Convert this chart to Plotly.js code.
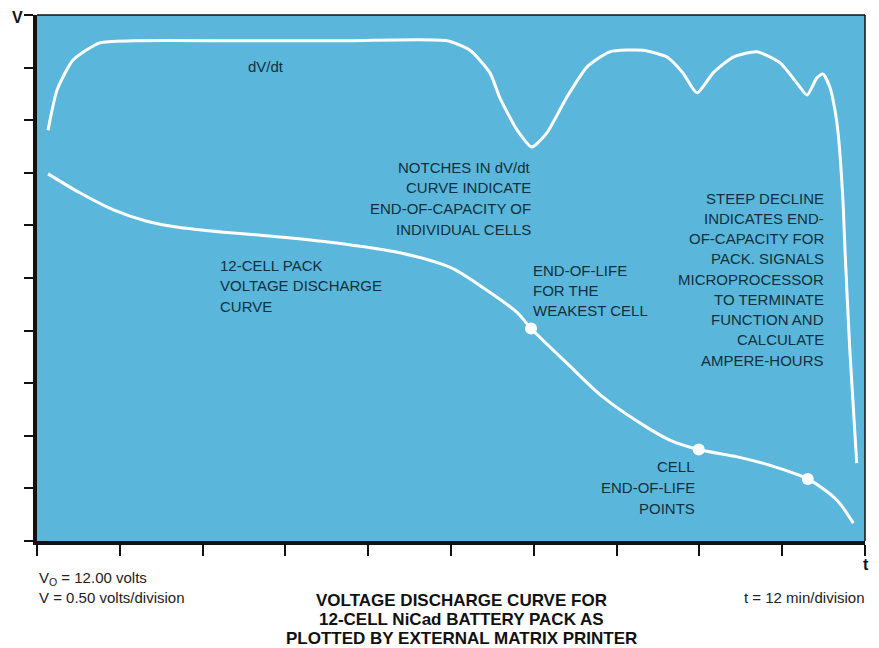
<!DOCTYPE html>
<html>
<head>
<meta charset="utf-8">
<script src="https://cdn.plot.ly/plotly-3.0.1.min.js"></script>
<style>
  html, body { margin: 0; padding: 0; background: #ffffff; }
  #chart { width: 879px; height: 648px; }
</style>
</head>
<body>
<div id="chart"></div>
<script>
// ---- Data ----
// time in minutes (12 min / division), voltage in volts (V0 = 12.00 V, 0.50 V / division)
const dischargeT = [1.6, 6.2, 11.0, 15.9, 20.7, 28.0, 35.2, 42.5, 52.6, 59.9, 64.6, 69.6, 71.6, 76.8, 82.0, 88.4, 91.7, 95.9, 101.5, 106.2, 111.7, 115.9, 118.3];
const dischargeV = [15.49, 15.31, 15.15, 15.04, 14.98, 14.93, 14.89, 14.84, 14.74, 14.60, 14.41, 14.17, 14.02, 13.69, 13.37, 13.08, 12.96, 12.87, 12.80, 12.72, 12.59, 12.39, 12.17];

// cell end-of-life points on the discharge curve
const cellEolT = [71.6, 95.9, 111.7];
const cellEolV = [14.02, 12.87, 12.59];

// dV/dt curve (arbitrary units, divisions)
const dvdtT = [1.6, 2.9, 5.2, 9.1, 14.0, 30.0, 45.0, 59.4, 62.75, 65.65, 67.1, 69.6, 71.7, 73.9, 76.8, 79.7, 83.0, 87.8, 91.3, 93.6, 95.65, 98.0, 100.9, 104.35, 107.7, 110.1, 111.6, 113.0, 113.9, 114.9, 115.65, 116.1, 116.8, 117.1, 117.8, 118.8];
const dvdtD = [7.81, 8.57, 9.14, 9.47, 9.51, 9.51, 9.51, 9.51, 9.33, 8.90, 8.42, 7.81, 7.49, 7.76, 8.44, 9.01, 9.30, 9.33, 9.20, 8.90, 8.52, 8.90, 9.20, 9.30, 9.09, 8.71, 8.48, 8.80, 8.88, 8.63, 8.19, 7.76, 6.48, 5.53, 3.63, 1.48];

// tick values
const timeTicks = [0, 12, 24, 36, 48, 60, 72, 84, 96, 108, 120];
const voltTicks = [12, 12.5, 13, 13.5, 14, 14.5, 15, 15.5, 16, 16.5, 17];

// text labels
const dvdtLabel = ["dV/dt"];
const notchLines = ["NOTCHES IN dV/dt", "CURVE INDICATE", "END-OF-CAPACITY OF", "INDIVIDUAL CELLS"];
const packLines = ["12-CELL PACK", "VOLTAGE DISCHARGE", "CURVE"];
const weakLines = ["END-OF-LIFE", "FOR THE", "WEAKEST CELL"];
const steepLines = ["STEEP DECLINE", "INDICATES END-", "OF-CAPACITY FOR", "PACK. SIGNALS", "MICROPROCESSOR", "TO TERMINATE", "FUNCTION AND", "CALCULATE", "AMPERE-HOURS"];
const cellLines = ["CELL", "END-OF-LIFE", "POINTS"];
const titleLines = ["VOLTAGE DISCHARGE CURVE FOR", "12-CELL NiCad BATTERY PACK AS", "PLOTTED BY EXTERNAL MATRIX PRINTER"];
const leftNotes = ["V<sub>O</sub> = 12.00 volts", "V = 0.50 volts/division"];
const rightNote = ["t = 12 min/division"];

// ---- Layout helpers ----
const W = 879, H = 648;
const M = { l: 37, r: 14, t: 15, b: 107 };
const PW = W - M.l - M.r, PH = H - M.t - M.b;
const px = x => (x - M.l) / PW;
const py = y => (H - M.b - y) / PH;

const inFont = { family: "Liberation Sans, Arial, sans-serif", size: 15, color: "#13303a" };
const outFont = { family: "Liberation Sans, Arial, sans-serif", size: 15, color: "#222222" };
const boldFont = { family: "Liberation Sans, Arial, sans-serif", size: 17, color: "#111111", weight: "bold" };

const annotations = [];
function block(lines, xPix, yPix, step, anchor, font) {
  lines.forEach((s, i) => {
    annotations.push({
      text: s, xref: "paper", yref: "paper",
      x: px(xPix), y: py(yPix + i * step),
      xanchor: anchor, yanchor: "middle", align: anchor === "right" ? "right" : (anchor === "left" ? "left" : "center"),
      showarrow: false, font: font
    });
  });
}
block(dvdtLabel, 266, 66, 0, "center", inFont);
block(notchLines, 533, 167, 20.7, "right", inFont);
block(packLines, 218, 265, 20.5, "left", inFont);
block(weakLines, 531, 270, 20, "left", inFont);
block(steepLines, 826, 198, 20.25, "right", inFont);
block(cellLines, 697, 466, 21, "right", inFont);
block(titleLines, 461, 600, 19, "center", boldFont);
block(leftNotes, 37, 578, 19, "left", outFont);
block(rightNote, 866, 597, 0, "right", outFont);
block(["V"], 17, 17, 0, "center", Object.assign({}, boldFont, { size: 16 }));
block(["t"], 866, 564, 0, "center", Object.assign({}, boldFont, { size: 16 }));

const traces = [
  { x: dischargeT, y: dischargeV, type: "scatter", mode: "lines",
    line: { color: "#ffffff", width: 3, shape: "spline", smoothing: 0.8 }, hoverinfo: "skip" },
  { x: dvdtT, y: dvdtD, yaxis: "y2", type: "scatter", mode: "lines",
    line: { color: "#ffffff", width: 3, shape: "spline", smoothing: 0.6 }, hoverinfo: "skip" },
  { x: cellEolT, y: cellEolV, type: "scatter", mode: "markers",
    marker: { color: "#ffffff", size: 12 }, hoverinfo: "skip" }
];

const layout = {
  width: W, height: H,
  margin: M,
  paper_bgcolor: "#ffffff",
  plot_bgcolor: "#5ab7db",
  showlegend: false,
  xaxis: {
    range: [0, 120], tickvals: timeTicks, showticklabels: false,
    ticks: "outside", ticklen: 11, tickwidth: 2, tickcolor: "#111111",
    showline: true, linewidth: 4, linecolor: "#111111",
    showgrid: false, zeroline: false, fixedrange: true
  },
  yaxis: {
    range: [12, 17], tickvals: voltTicks, showticklabels: false,
    ticks: "outside", ticklen: 9, tickwidth: 2, tickcolor: "#111111",
    showline: true, linewidth: 4, linecolor: "#111111",
    showgrid: false, zeroline: false, fixedrange: true
  },
  yaxis2: { overlaying: "y", range: [0, 10], visible: false, fixedrange: true },
  shapes: [
    { type: "line", xref: "paper", yref: "paper", x0: 0, x1: 1, y0: 1, y1: 1, line: { color: "#111111", width: 1.5 } },
    { type: "line", xref: "paper", yref: "paper", x0: 1, x1: 1, y0: 0, y1: 1, line: { color: "#111111", width: 1.5 } }
  ],
  annotations: annotations
};

Plotly.newPlot("chart", traces, layout, { displayModeBar: false, staticPlot: true });
</script>
</body>
</html>
